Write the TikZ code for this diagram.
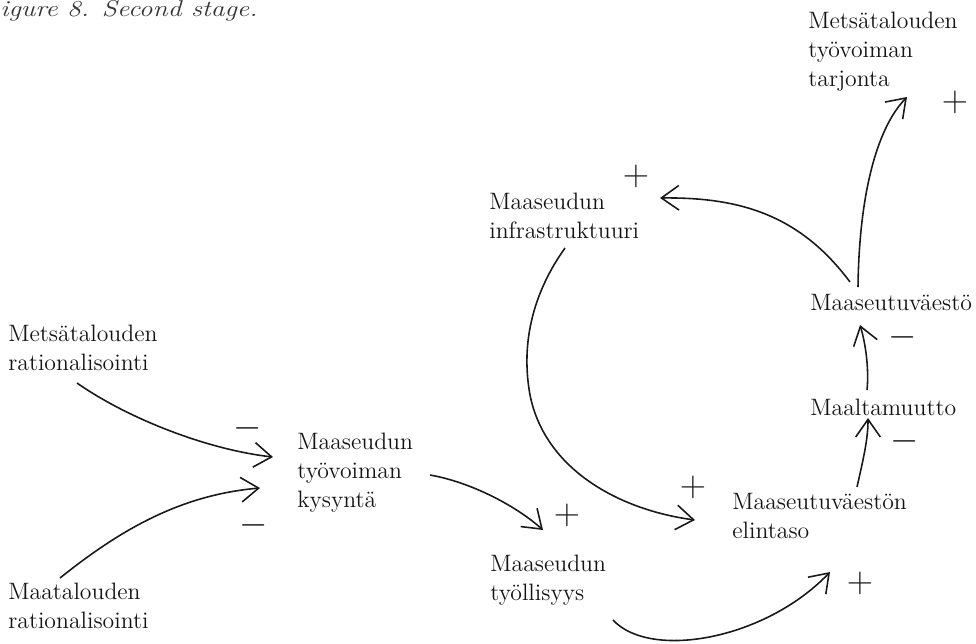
\documentclass[tikz,border=0pt]{standalone}
\usetikzlibrary{arrows.meta}
\begin{document}
\begin{tikzpicture}[x=0.02cm,y=-0.02cm,
  lbl/.style={anchor=north west, inner sep=0pt, align=left, text=black!92, font=\fontsize{13.5}{16.5}\selectfont},
  sgn/.style={inner sep=0pt, text=black!90, font=\fontsize{21}{21}\selectfont},
  arr/.style={line width=0.9pt, black!90, -{Straight Barb[length=10pt,width=14pt,line width=0.9pt]}}]
\useasboundingbox (0,0) rectangle (976,643);
% title
\node[anchor=base west, inner sep=0pt, text=black!80, xscale=1.2, transform shape, font=\itshape\fontsize{13}{16}\selectfont] (title) at (0,16) {igure 8. Second stage.};
% variables
\node[lbl] (mr)    at (8,325)   {Metsätalouden\\rationalisointi};
\node[lbl] (mar)   at (8,583)   {Maatalouden\\rationalisointi};
\node[lbl] (kys)   at (297,433) {Maaseudun\\työvoiman\\kysyntä};
\node[lbl] (tyol)  at (490,555) {Maaseudun\\työllisyys};
\node[lbl] (infra) at (489,193) {Maaseudun\\infrastruktuuri};
\node[lbl] (elin)  at (732,493) {Maaseutuväestön\\elintaso};
\node[lbl] (maal)  at (810,399) {Maaltamuutto};
\node[lbl] (mv)    at (810,294) {Maaseutuväestö};
\node[lbl] (mtt)   at (808,12)  {Metsätalouden\\työvoiman\\tarjonta};
% signs
\node[sgn] (s1) at (248,428) {$-$};
\node[sgn] (s2) at (254,525) {$-$};
\node[sgn] (s3) at (567,515) {$+$};
\node[sgn] (s4) at (636,176) {$+$};
\node[sgn] (s5) at (693,487) {$+$};
\node[sgn] (s6) at (860,583) {$+$};
\node[sgn] (s7) at (905,441) {$-$};
\node[sgn] (s8) at (903,337) {$-$};
\node[sgn] (s9) at (955,102) {$+$};
% connectors
\draw[arr] ([shift={(69,58)}]mr.north west) .. controls (130,420) and (210,450) .. ([shift={(-24,24)}]kys.north west);
\draw[arr] ([shift={(52,-5)}]mar.north west) .. controls (120,530) and (180,495) .. ([shift={(-37,55)}]kys.north west);
\draw[arr] ([shift={(133,42)}]kys.north west) .. controls (470,482) and (515,505) .. ([shift={(53,-25)}]tyol.north west);
\draw[arr] ([shift={(123,65)}]tyol.north west) .. controls (650,660) and (765,640) .. ([shift={(98,79)}]elin.north west);
\draw[arr] ([shift={(76,55)}]infra.north west) .. controls (535,290) and (520,340) .. (530,395) .. controls (545,470) and (620,510) .. ([shift={(-37,27)}]elin.north west);
\draw[arr] ([shift={(125,-6)}]elin.north west) .. controls (863,460) and (868,440) .. ([shift={(58,19)}]maal.north west);
\draw[arr] ([shift={(57,-9)}]maal.north west) .. controls (869,370) and (866,345) .. ([shift={(50,31)}]mv.north west);
\draw[arr] ([shift={(40,-12)}]mv.north west) .. controls (800,215) and (740,197) .. ([shift={(171,5)}]infra.north west);
\draw[arr] ([shift={(48,-7)}]mv.north west) .. controls (859,200) and (875,130) .. ([shift={(99,85)}]mtt.north west);
\end{tikzpicture}
\end{document}
